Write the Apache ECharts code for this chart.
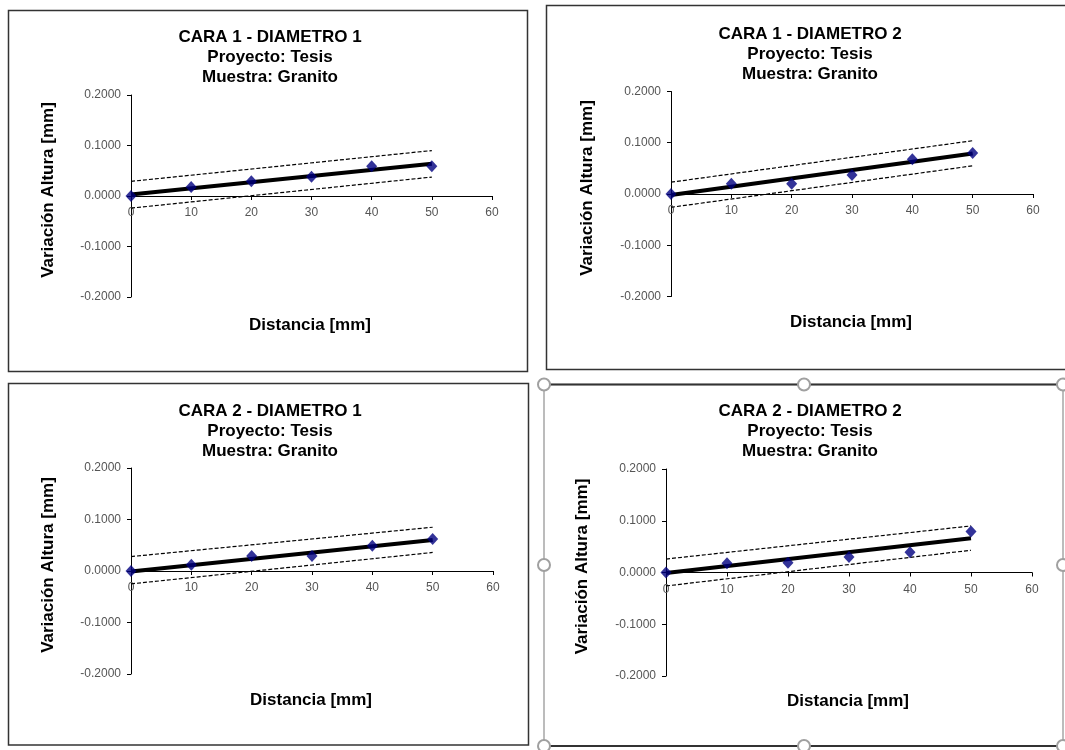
<!DOCTYPE html>
<html>
<head>
<meta charset="utf-8">
<script src="https://cdn.jsdelivr.net/npm/echarts@6/dist/echarts.min.js"></script>
<style>
  html, body { margin: 0; padding: 0; background: #fff; }
  #chart { width: 1065px; height: 750px; }
</style>
</head>
<body>
<div id="chart"></div>
<script>
// datos
var distancia = [0, 10, 20, 30, 40, 50];
var extremos = [0, 50];
var titulos = ["CARA 1 - DIAMETRO 1", "CARA 1 - DIAMETRO 2", "CARA 2 - DIAMETRO 1", "CARA 2 - DIAMETRO 2"];
var subtitulo = "Proyecto: Tesis\nMuestra: Granito";

var cara1Diam1 = [0, 0.018, 0.029, 0.038, 0.059, 0.059];
var cara1Diam2 = [0, 0.02, 0.02, 0.037, 0.068, 0.08];
var cara2Diam1 = [0, 0.012, 0.029, 0.029, 0.049, 0.062];
var cara2Diam2 = [0, 0.018, 0.019, 0.03, 0.039, 0.079];
var medidas = [cara1Diam1, cara1Diam2, cara2Diam1, cara2Diam2];

// recta de ajuste y limites (valores en x = 0 y x = 50)
var tendencia = [[0.003, 0.064], [-0.002, 0.079], [-0.001, 0.060], [-0.001, 0.066]];
var limSup = [[0.029, 0.090], [0.023, 0.104], [0.028, 0.085], [0.026, 0.090]];
var limInf = [[-0.024, 0.0375], [-0.026, 0.055], [-0.025, 0.036], [-0.026, 0.043]];

// ejes
var xMin = 0, xMax = 60, xPaso = 10;
var yMin = -0.2, yMax = 0.2, yPaso = 0.1;

var fuente = "Liberation Sans, Arial, sans-serif";

// posiciones de cada panel
var grids = [
  { left: 131, top: 95, width: 361, height: 202 },
  { left: 671, top: 91.5, width: 362, height: 205 },
  { left: 131, top: 468, width: 362, height: 206 },
  { left: 666, top: 469, width: 366, height: 207 }
];
var tituloPos = [[270, 27], [810, 24], [270, 401], [810, 401]];
var nombreXPos = [[310, 317], [851, 314], [311, 692], [848, 693]];
var nombreYGap = [74, 75, 74, 75];

function par(xs, ys) {
  return xs.map(function (x, k) { return [x, ys[k]]; });
}

var option = {
  animation: false,
  backgroundColor: "#fff",
  title: [],
  grid: [],
  xAxis: [],
  yAxis: [],
  series: [],
  graphic: []
};

for (var i = 0; i < 4; i++) {
  option.title.push({
    text: titulos[i] + "\n" + subtitulo,
    left: tituloPos[i][0], top: tituloPos[i][1], padding: 0,
    textAlign: "center",
    textStyle: { fontFamily: fuente, fontSize: 17, fontWeight: "bold", color: "#000", lineHeight: 20 }
  });
  option.title.push({
    text: "Distancia [mm]",
    left: nombreXPos[i][0], top: nombreXPos[i][1], padding: 0,
    textAlign: "center",
    textStyle: { fontFamily: fuente, fontSize: 17, fontWeight: "bold", color: "#000" }
  });
  option.grid.push(grids[i]);
  // el eje x cruza en y = 0 (mitad del rango simetrico)
  option.xAxis.push({
    type: "value", gridIndex: i, min: xMin, max: xMax, interval: xPaso,
    position: "bottom", offset: -grids[i].height / 2,
    axisLine: { onZero: false, lineStyle: { color: "#000", width: 1 } },
    axisTick: { show: true, length: 4, lineStyle: { color: "#000" } },
    axisLabel: { fontFamily: fuente, fontSize: 12, color: "#555", margin: 11 },
    splitLine: { show: false }
  });
  option.yAxis.push({
    type: "value", gridIndex: i, min: yMin, max: yMax, interval: yPaso,
    name: "Variación Altura [mm]", nameLocation: "middle", nameGap: nombreYGap[i],
    nameTextStyle: { fontFamily: fuente, fontSize: 17, fontWeight: "bold", color: "#000", padding: [0, 0, 0, 12] },
    axisLine: { onZero: false, lineStyle: { color: "#000", width: 1 } },
    axisTick: { show: true, length: 4, lineStyle: { color: "#000" } },
    axisLabel: {
      fontFamily: fuente, fontSize: 12, color: "#555", margin: 10,
      formatter: function (v) { return v.toFixed(4); }
    },
    splitLine: { show: false }
  });

  var punteada = { color: "#000", width: 1.2, type: [4, 2] };
  option.series.push({
    type: "line", xAxisIndex: i, yAxisIndex: i, data: par(extremos, limSup[i]),
    symbol: "none", lineStyle: punteada, z: 2, silent: true
  });
  option.series.push({
    type: "line", xAxisIndex: i, yAxisIndex: i, data: par(extremos, limInf[i]),
    symbol: "none", lineStyle: punteada, z: 2, silent: true
  });
  option.series.push({
    type: "line", xAxisIndex: i, yAxisIndex: i, data: par(extremos, tendencia[i]),
    symbol: "none", lineStyle: { color: "#000", width: 4 }, z: 3, silent: true
  });
  option.series.push({
    type: "scatter", xAxisIndex: i, yAxisIndex: i, data: par(distancia, medidas[i]),
    symbol: "diamond", symbolSize: [11, 12], itemStyle: { color: "#000080" }, z: 4
  });
}

// marcos de los graficos
var marco = { fill: "none", stroke: "#333", lineWidth: 1.5 };
option.graphic.push({ type: "rect", silent: true, shape: { x: 8.5, y: 10.5, width: 519, height: 361 }, style: marco });
option.graphic.push({ type: "rect", silent: true, shape: { x: 546.5, y: 5.5, width: 540, height: 364 }, style: marco });
option.graphic.push({ type: "rect", silent: true, shape: { x: 8.5, y: 383.5, width: 520, height: 361.5 }, style: marco });

// marco seleccionado del ultimo grafico
option.graphic.push({ type: "rect", silent: true, shape: { x: 544, y: 384.5, width: 519, height: 361.5 },
  style: { fill: "none", stroke: "#a6a6a6", lineWidth: 1.5 } });
option.graphic.push({ type: "line", silent: true, shape: { x1: 550, y1: 384.5, x2: 1058, y2: 384.5 },
  style: { stroke: "#333", lineWidth: 1.8 } });
option.graphic.push({ type: "line", silent: true, shape: { x1: 550, y1: 746, x2: 1058, y2: 746 },
  style: { stroke: "#333", lineWidth: 1.8 } });
var manijasX = [544, 804, 1063], manijasY = [384.5, 565, 746];
manijasX.forEach(function (hx, a) {
  manijasY.forEach(function (hy, b) {
    if (a === 1 && b === 1) return;
    option.graphic.push({ type: "circle", silent: true, z: 10, shape: { cx: hx, cy: hy, r: 6 },
      style: { fill: "#fff", stroke: "#a0a0a0", lineWidth: 2 } });
  });
});

var chart = echarts.init(document.getElementById("chart"));
chart.setOption(option);
window.addEventListener("resize", function () { chart.resize(); });
</script>
</body>
</html>
